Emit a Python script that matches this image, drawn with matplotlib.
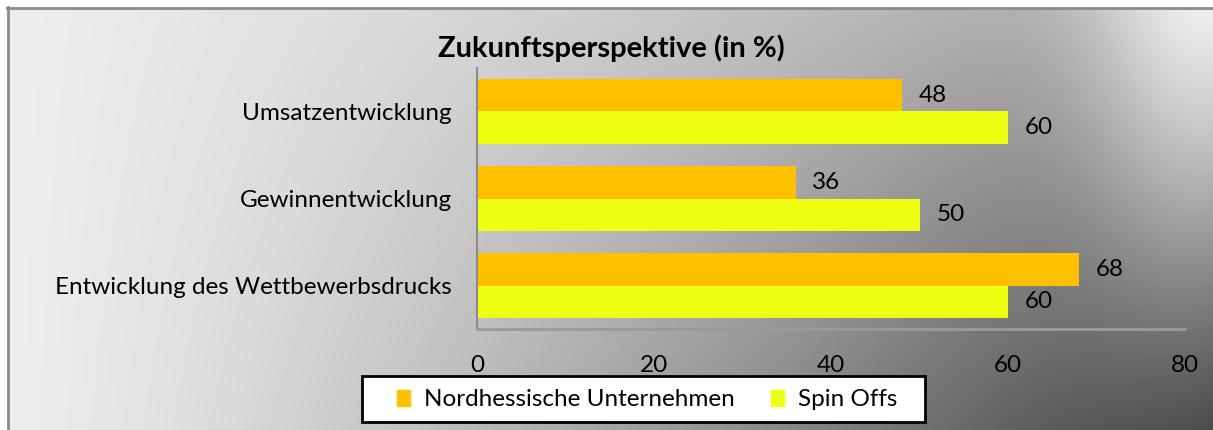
import numpy as np
import matplotlib
matplotlib.use("Agg")
import matplotlib.pyplot as plt
from matplotlib.patches import Rectangle

# data
categories = ["Entwicklung des Wettbewerbsdrucks", "Gewinnentwicklung", "Umsatzentwicklung"]
nordhessen = [68, 36, 48]
spin_offs = [60, 50, 60]
series_names = ["Nordhessische Unternehmen", "Spin Offs"]
x_ticks = [0, 20, 40, 60, 80]

ORANGE = "#FFC000"
YELLOW = "#EEFF12"
FONT = "Lato"
FS = 17.5

W, H = 1213, 430
fig = plt.figure(figsize=(W / 100, H / 100), dpi=100)

# gray gradient background (left light -> bottom right dark, light top right corner)
bg = fig.add_axes([0, 0, 1, 1])
xx, yy = np.meshgrid(np.linspace(0, 1, W), np.linspace(0, 1, H))
v = 0.93 - 0.7 * xx ** 1.3 * (0.45 + 0.55 * yy)
dx = (1.0 - xx) * W
dy = yy * H
spot = np.exp(-dx ** 2 / (2 * 85 ** 2)) * np.exp(-dy ** 2 / (2 * 240 ** 2))
v = np.clip(v + 0.32 * spot, 0, 1)
bg.imshow(v, cmap="gray", vmin=0, vmax=1, extent=[0, W, H, 0], aspect="auto", interpolation="bilinear")
bg.add_patch(Rectangle((0, 0), W, 7, color="white", zorder=2))
bg.add_patch(Rectangle((0, 0), 7, H, color="white", zorder=2))
bg.plot([7, W], [7.5, 7.5], color="#8a8a8a", lw=2, zorder=3)
bg.plot([7.5, 7.5], [7, H], color="#8a8a8a", lw=2, zorder=3)
# legend box
bg.add_patch(Rectangle((362, 376), 563, 46, facecolor="white", edgecolor="black", lw=2, zorder=4))
bg.set_xlim(0, W)
bg.set_ylim(H, 0)
bg.axis("off")

ax = fig.add_axes([477 / W, 1 - 329 / H, (1185 - 477) / W, (329 - 68) / H])
ax.patch.set_alpha(0)
y = np.arange(len(categories))
h = 0.37
b1 = ax.barh(y + h / 2, nordhessen, height=h, color=ORANGE, label=series_names[0])
b2 = ax.barh(y - h / 2, spin_offs, height=h, color=YELLOW, label=series_names[1])
for bars in (b1, b2):
    for r in bars:
        ax.text(r.get_width() + 1.9, r.get_y() + r.get_height() / 2, f"{r.get_width():.0f}",
                va="center", ha="left", fontsize=FS, family=FONT, color="black")

ax.set_xlim(0, 80)
ax.set_ylim(-0.5, 2.5)
ax.set_xticks(x_ticks)
ax.set_yticks(y)
ax.set_yticklabels(categories)
ax.tick_params(axis="both", length=0, labelsize=FS)
ax.tick_params(axis="x", pad=19)
ax.tick_params(axis="y", pad=18)
for lab in ax.get_xticklabels() + ax.get_yticklabels():
    lab.set_family(FONT)
ax.spines["top"].set_visible(False)
ax.spines["right"].set_visible(False)
ax.spines["left"].set_color("#8c8c8c")
ax.spines["left"].set_linewidth(1.5)
ax.spines["bottom"].set_color("#9a9a9a")
ax.spines["bottom"].set_linewidth(2)

fig.text(0.504, 0.888, "Zukunftsperspektive (in %)", ha="center", va="center",
         fontsize=21, fontweight="bold", family=FONT)

handles = [Rectangle((0, 0), 1, 1, color=ORANGE), Rectangle((0, 0), 1, 1, color=YELLOW)]
leg = fig.legend(handles, series_names, loc="center left", bbox_to_anchor=(397 / W, 1 - 400 / H),
                 ncol=2, frameon=False, prop={"family": FONT, "size": FS},
                 handlelength=0.55, handleheight=0.6, handletextpad=0.55, columnspacing=1.5,
                 borderpad=0, borderaxespad=0)
leg.set_zorder(10)

fig.savefig("out.png", dpi=100)
